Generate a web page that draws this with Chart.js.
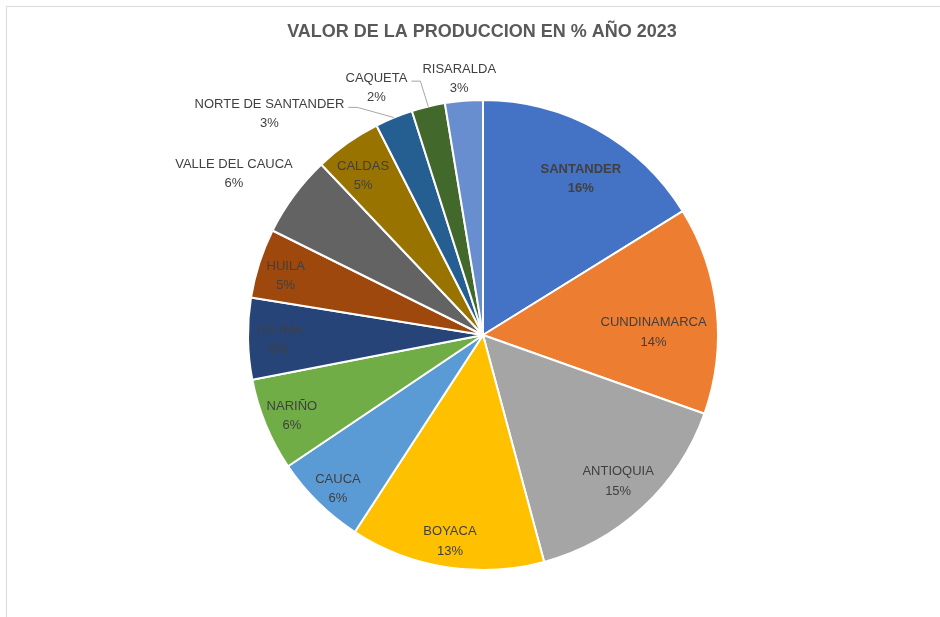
<!DOCTYPE html>
<html>
<head>
<meta charset="utf-8">
<script src="https://cdn.jsdelivr.net/npm/chart.js@4/dist/chart.umd.min.js"></script>
<style>
  html, body { margin: 0; padding: 0; background: #fff; }
  #wrap { position: relative; width: 940px; height: 617px; }
</style>
</head>
<body>
<div id="wrap"><canvas id="myChart" width="940" height="617"></canvas></div>
<script>
const departamentos = [
  "SANTANDER", "CUNDINAMARCA", "ANTIOQUIA", "BOYACA", "CAUCA", "NARIÑO",
  "TOLIMA", "HUILA", "VALLE DEL CAUCA", "CALDAS", "NORTE DE SANTANDER",
  "CAQUETA", "RISARALDA"
];
const valores = [16.2, 14.3, 15.4, 13.4, 6.4, 6.4, 5.6, 4.8, 5.6, 4.6, 2.6, 2.3, 2.6];
const colores = [
  "#4472C4", "#ED7D31", "#A5A5A5", "#FFC000", "#5B9BD5", "#70AD47",
  "#264478", "#9E480E", "#636363", "#997300", "#255E91", "#43682B", "#698ED0"
];
const titulo = "VALOR DE LA PRODUCCION EN % AÑO 2023";

// label spot for each slice: angle (deg, canvas) and radius factor from the centre
const labelPlacement = [
  { angle: -57.9, r: 0.783, bold: true },
  { angle: -0.9, r: 0.726 },
  { angle: 47.3, r: 0.848 },
  { angle: 99.1, r: 0.889 },
  { angle: 133.3, r: 0.9 },
  { angle: 157.1, r: 0.883 },
  { angle: 178.7, r: 0.871 },
  { angle: -163.4, r: 0.876 },
  { angle: -147.1, r: 1.262 },
  { angle: -127.0, r: 0.848 },
  { angle: -134.0, r: 1.308, leader: true },
  { angle: -113.3, r: 1.146, leader: true },
  { angle: -95.3, r: 1.095 }
];

const FONT = '"Liberation Sans", Arial, sans-serif';

const labelsPlugin = {
  id: "pieLabels",
  beforeDraw(chart) {
    const ctx = chart.ctx;
    ctx.save();
    ctx.strokeStyle = "#d9d9d9";
    ctx.lineWidth = 1;
    ctx.beginPath();
    ctx.moveTo(6.5, 617);
    ctx.lineTo(6.5, 6.5);
    ctx.lineTo(940, 6.5);
    ctx.stroke();
    ctx.restore();
  },
  afterDraw(chart) {
    const ctx = chart.ctx;
    const meta = chart.getDatasetMeta(0);
    const total = valores.reduce((a, b) => a + b, 0);
    ctx.save();
    ctx.textAlign = "center";
    ctx.textBaseline = "middle";

    // title
    ctx.fillStyle = "#595959";
    ctx.font = "bold 18px " + FONT;
    ctx.fillText(titulo, 482, 32);

    meta.data.forEach((arc, i) => {
      const p = arc.getProps(["x", "y", "startAngle", "endAngle", "outerRadius"], true);
      const mid = (p.startAngle + p.endAngle) / 2;
      const place = labelPlacement[i];
      const ang = place.angle * Math.PI / 180;
      const lx = p.x + Math.cos(ang) * p.outerRadius * place.r;
      const ly = p.y + Math.sin(ang) * p.outerRadius * place.r;
      const pct = Math.round(valores[i] / total * 100) + "%";

      ctx.font = (place.bold ? "bold " : "") + "13px " + FONT;
      ctx.fillStyle = "#404040";
      ctx.fillText(departamentos[i], lx, ly - 9.7);
      ctx.fillText(pct, lx, ly + 9.7);

      if (place.leader) {
        const w = ctx.measureText(departamentos[i]).width;
        const sx = lx + w / 2 + 4;
        const sy = ly - 6.5;
        const ex = p.x + Math.cos(mid) * p.outerRadius;
        const ey = p.y + Math.sin(mid) * p.outerRadius;
        ctx.strokeStyle = "#a6a6a6";
        ctx.lineWidth = 1;
        ctx.beginPath();
        ctx.moveTo(sx, sy);
        ctx.lineTo(sx + 9, sy);
        ctx.lineTo(ex, ey);
        ctx.stroke();
      }
    });
    ctx.restore();
  }
};

new Chart(document.getElementById("myChart"), {
  type: "pie",
  data: {
    labels: departamentos,
    datasets: [{
      data: valores,
      backgroundColor: colores,
      borderColor: "#ffffff",
      borderWidth: 2
    }]
  },
  options: {
    responsive: false,
    animation: false,
    layout: { padding: { top: 99, bottom: 46, left: 26, right: 0 } },
    plugins: {
      legend: { display: false },
      title: { display: false },
      tooltip: { enabled: false }
    }
  },
  plugins: [labelsPlugin]
});
</script>
</body>
</html>
